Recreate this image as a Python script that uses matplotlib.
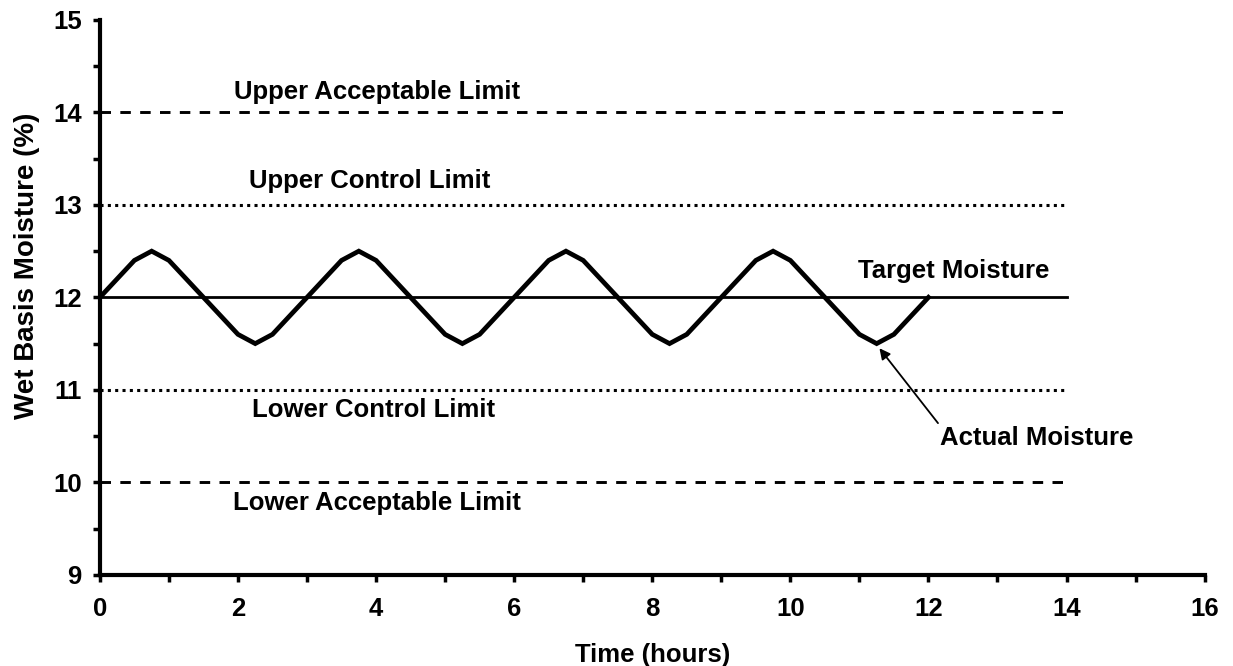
import matplotlib
matplotlib.use("Agg")
import matplotlib.pyplot as plt
from matplotlib.ticker import MultipleLocator

plt.rcParams["font.family"] = ["Liberation Sans", "DejaVu Sans"]
plt.rcParams["font.weight"] = "bold"

# ---------------------------------
# data
# ---------------------------------
time_h = [0, 0.5, 0.75, 1.0, 1.5, 2.0, 2.25, 2.5, 3.0,
          3.5, 3.75, 4.0, 4.5, 5.0, 5.25, 5.5, 6.0,
          6.5, 6.75, 7.0, 7.5, 8.0, 8.25, 8.5, 9.0,
          9.5, 9.75, 10.0, 10.5, 11.0, 11.25, 11.5, 12.0]
moisture = [12.0, 12.4, 12.5, 12.4, 12.0, 11.6, 11.5, 11.6, 12.0,
            12.4, 12.5, 12.4, 12.0, 11.6, 11.5, 11.6, 12.0,
            12.4, 12.5, 12.4, 12.0, 11.6, 11.5, 11.6, 12.0,
            12.4, 12.5, 12.4, 12.0, 11.6, 11.5, 11.6, 12.0]

limit_x = [0, 14]
target = 12.0
upper_acc, lower_acc = 14.0, 10.0
upper_ctl, lower_ctl = 13.0, 11.0

# ---------------------------------
# figure
# ---------------------------------
fig = plt.figure(figsize=(12.33, 6.66), dpi=100)
ax = fig.add_axes([0.081, 0.137, 0.896, 0.833])

dash = (0, (3.6, 3.2))
dot = (0, (1.0, 1.4))

ax.plot(limit_x, [upper_acc] * 2, color="black", lw=2.1, linestyle=dash)
ax.plot(limit_x, [lower_acc] * 2, color="black", lw=2.1, linestyle=dash)
ax.plot(limit_x, [upper_ctl] * 2, color="black", lw=2.2, linestyle=dot)
ax.plot(limit_x, [lower_ctl] * 2, color="black", lw=2.2, linestyle=dot)
ax.plot(limit_x, [target] * 2, color="black", lw=2.0)
ax.plot(time_h, moisture, color="black", lw=3.4, solid_joinstyle="miter")

# ---------------------------------
# labels on the lines
# ---------------------------------
fs = 18.5
ax.text(4.01, 14.22, "Upper Acceptable Limit", ha="center", va="center", fontsize=fs, fontweight="bold")
ax.text(3.91, 13.26, "Upper Control Limit", ha="center", va="center", fontsize=fs, fontweight="bold")
ax.text(12.37, 12.28, "Target Moisture", ha="center", va="center", fontsize=fs, fontweight="bold")
ax.text(3.97, 10.78, "Lower Control Limit", ha="center", va="center", fontsize=fs, fontweight="bold")
ax.text(4.01, 9.78, "Lower Acceptable Limit", ha="center", va="center", fontsize=fs, fontweight="bold")

ax.annotate("Actual Moisture", xy=(11.29, 11.45), xytext=(13.57, 10.48),
            ha="center", va="center", fontsize=fs, fontweight="bold",
            arrowprops=dict(arrowstyle="-|>", color="black", lw=1.3,
                            shrinkA=0, shrinkB=0, mutation_scale=16,
                            relpos=(0.0, 1.0)))

# ---------------------------------
# axes
# ---------------------------------
ax.set_xlim(0, 16)
ax.set_ylim(9, 15)
ax.xaxis.set_major_locator(MultipleLocator(2))
ax.xaxis.set_minor_locator(MultipleLocator(1))
ax.yaxis.set_major_locator(MultipleLocator(1))
ax.yaxis.set_minor_locator(MultipleLocator(0.5))

for side in ["top", "right"]:
    ax.spines[side].set_visible(False)
for side in ["left", "bottom"]:
    ax.spines[side].set_linewidth(3.0)

ax.tick_params(which="both", direction="out", width=2.5, length=5)
ax.tick_params(axis="x", which="major", labelsize=18.5, pad=11)
ax.tick_params(axis="y", which="major", labelsize=18.5, pad=8)
for lab in ax.get_xticklabels() + ax.get_yticklabels():
    lab.set_fontweight("bold")

ax.set_xlabel("Time (hours)", fontsize=18.5, fontweight="bold", labelpad=15.5)
ax.set_ylabel("Wet Basis Moisture (%)", fontsize=20, fontweight="bold")
ax.yaxis.set_label_coords(-0.054, 0.557)

fig.savefig("out.png", dpi=100)
